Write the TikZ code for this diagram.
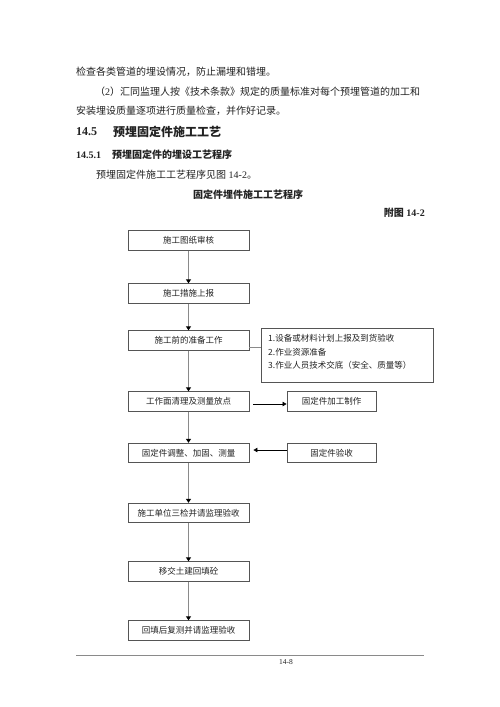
\documentclass[tikz,border=0pt]{standalone}
\usepackage{fontspec}
\setmainfont{Liberation Serif}
\newfontfamily\cjk{Noto Sans CJK SC}
\usetikzlibrary{arrows.meta}
\definecolor{boxline}{HTML}{555555}
\definecolor{conn}{HTML}{8A8A8A}
\definecolor{txt}{HTML}{222222}
\tikzset{
  body/.style={anchor=west,inner sep=0pt,text=txt,font=\fontsize{10}{12}\selectfont},
  mainbox/.style={draw=boxline,line width=0.9pt,minimum width=121pt,minimum height=19.5pt,inner sep=0pt,text=txt,font=\cjk\fontsize{8.5}{10}\selectfont},
  sidebox/.style={mainbox,minimum width=89pt},
  flow/.style={draw=conn,line width=1.6pt,-{Triangle[length=4pt,width=5pt,color=black]}},
  plain/.style={draw=conn,line width=1pt},
  side/.style={draw=black,line width=0.8pt,-{Triangle[length=4pt,width=4.5pt,color=black]}},
}
\begin{document}
\begin{tikzpicture}[x=1pt,y=-1pt]
\useasboundingbox[fill=white] (0,0) rectangle (500,707);
% header text
\node[body] (t1) at (76,72) {\cjk 检查各类管道的埋设情况，防止漏埋和错埋。};
\node[body] (t2) at (95,92) {{\cjk （}2{\cjk ）汇同监理人按《技术条款》规定的质量标准对每个预埋管道的加工和}};
\node[body] (t3) at (76,111) {\cjk 安装埋设质量逐项进行质量检查，并作好记录。};
\node[body,font=\bfseries\fontsize{12}{14}\selectfont] (h1n) at (76,132) {14.5};
\node[body,font=\cjk\bfseries\fontsize{12}{14}\selectfont] (h1) at (113,132) {预埋固定件施工工艺};
\node[body,font=\bfseries\fontsize{10}{12}\selectfont] (h2n) at (76,155) {14.5.1};
\node[body,font=\cjk\bfseries\fontsize{10}{12}\selectfont] (h2) at (112,155) {预埋固定件的埋设工艺程序};
\node[body] (t4) at (96,175) {{\cjk 预埋固定件施工工艺程序见图} 14-2{\cjk 。}};
\node[inner sep=0pt,text=txt,font=\cjk\bfseries\fontsize{10}{12}\selectfont] (title) at (248,195) {固定件埋件施工工艺程序};
\node[anchor=east,inner sep=0pt,text=txt,font=\bfseries\fontsize{10}{12}\selectfont] (fig) at (425,213) {{\cjk 附图} 14-2};
% main boxes
\node[mainbox] (b1) at (188.5,240.5) {施工图纸审核};
\node[mainbox] (b2) at (188.5,293.5) {施工措施上报};
\node[mainbox] (b3) at (188.5,340.5) {施工前的准备工作};
\node[mainbox] (b4) at (188.5,401.5) {工作面清理及测量放点};
\node[mainbox] (b5) at (188.5,453) {固定件调整、加固、测量};
\node[mainbox] (b6) at (188.5,513) {施工单位三检并请监理验收};
\node[mainbox] (b7) at (188.5,571.5) {移交土建回填砼};
\node[mainbox] (b8) at (188.5,630.5) {回填后复测并请监理验收};
% side boxes
\node[draw=boxline,line width=0.9pt,minimum width=172pt,minimum height=54pt,inner sep=0pt] (list) at (347,355) {};
\node[anchor=west,inner sep=0pt,text=txt,font=\cjk\fontsize{8.5}{13.5}\selectfont,align=left] (listtxt) at (268,352) {1.设备或材料计划上报及到货验收\\2.作业资源准备\\3.作业人员技术交底（安全、质量等）};
\node[sidebox] (s1) at (331.5,401.5) {固定件加工制作};
\node[sidebox] (s2) at (331.5,453) {固定件验收};
% connector end points
\coordinate (c3a) at ([yshift=-6.5pt]b3.east);
\coordinate (c3b) at (list.west |- c3a);
\coordinate (c4a) at ([xshift=4pt,yshift=-2.5pt]b4.east);
\coordinate (c4b) at (s1.west |- c4a);
\coordinate (c5a) at ([yshift=3pt]s2.west);
\coordinate (c5b) at ([xshift=4pt,yshift=3pt]b5.east);
% connectors
\draw[flow] (b1) -- (b2);
\draw[flow] (b2) -- (b3);
\draw[flow] (b3) -- (b4);
\draw[flow] (b4) -- (b5);
\draw[flow] (b5) -- (b6);
\draw[flow] (b6) -- (b7);
\draw[flow] (b7) -- (b8);
\draw[plain] (c3a) -- (c3b);
\draw[side] (c4a) -- (c4b);
\draw[side] (c5a) -- (c5b);
% footer
\coordinate (fl) at (76,655);
\coordinate (fr) at (424,655);
\draw[conn,line width=1pt] (fl) -- (fr);
\node[inner sep=0pt,text=txt,font=\fontsize{7.5}{9}\selectfont] (pg) at (286,662) {14-8};
\end{tikzpicture}
\end{document}
